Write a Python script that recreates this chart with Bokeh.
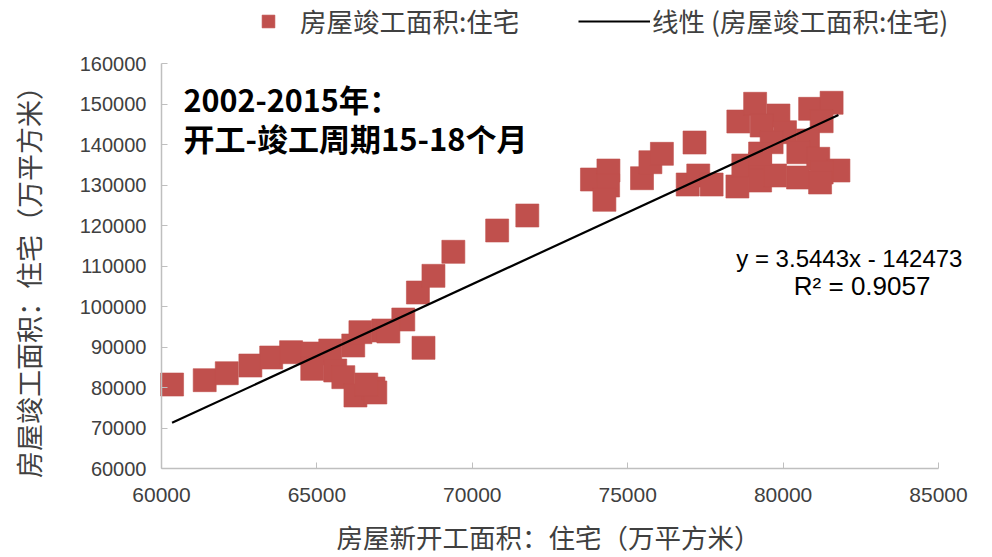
import math
from bokeh.plotting import figure
from bokeh.models import Legend, LegendItem, Label, Range1d, FixedTicker, NumeralTickFormatter, ColumnDataSource
from bokeh.embed import file_html
from bokeh.resources import INLINE

# 房屋新开工面积：住宅（万平方米）
new_start = [60340, 61390, 62100, 62860, 63530, 64170, 64850, 65430, 66170, 66400,
             67140, 67780, 64850, 65590, 65850, 66240, 66820, 66880, 66590, 67300,
             68430, 68250, 68750, 69390, 70800, 71770, 73850, 74380, 74370, 74250,
             75460, 75730, 76100, 77150, 76930, 77270, 77700, 78530, 78720, 78560,
             79100, 79850, 80870, 81560, 81240, 79310, 80060, 80800, 79630, 80490,
             81130, 81780, 79260, 79260, 79740, 80480, 81240, 79260, 81190]
# 房屋竣工面积：住宅（万平方米）
completed = [80860, 81930, 83650, 85550, 87530, 88840, 88520, 89260, 90490, 93780,
             94200, 96910, 84740, 84320, 82670, 78150, 79880, 78890, 80860, 93950,
             89920, 103580, 107700, 113630, 118890, 122590, 131480, 133700, 130000, 126470,
             131800, 135750, 137820, 140610, 130240, 132470, 130240, 129750, 134930, 145800,
             150170, 147280, 148930, 150420, 145870, 144810, 143160, 141110, 140690, 138220,
             136590, 133700, 135430, 131230, 132470, 131970, 133210, 137900, 130740]

slope = 3.5443
intercept = -142473
r_squared = 0.9057

x_ticks = [60000, 65000, 70000, 75000, 80000, 85000]
y_ticks = [60000, 70000, 80000, 90000, 100000, 110000, 120000, 130000, 140000, 150000, 160000]

series_name = "房屋竣工面积:住宅"
trend_name = "线性 (房屋竣工面积:住宅)"
x_title = "房屋新开工面积：住宅（万平方米）"
y_title = "房屋竣工面积：住宅（万平方米）"
note1 = "2002-2015年："
note2 = "开工-竣工周期15-18个月"

CJK = "Noto Sans CJK SC"
TXT = "#404040"
RED = "#C0504D"

# The plot frame covers the whole canvas; axes are pinned at the data origin
# (fixed_location) and bounded to the tick range, so titles/legend fit around them.
p = figure(width=992, height=557, output_backend="svg", toolbar_location=None,
           x_range=Range1d(54820, 86737), y_range=Range1d(38148, 175679),
           min_border_left=0, min_border_right=0, min_border_top=0, min_border_bottom=0)
p.outline_line_color = None
p.xgrid.visible = False
p.ygrid.visible = False
p.background_fill_color = "white"

src = ColumnDataSource(dict(x=new_start, y=completed))
pts = p.scatter("x", "y", source=src, marker="square", size=23,
                fill_color=RED, line_color=RED, line_alpha=0.6)

xmin, xmax = min(new_start), max(new_start)
tl = p.line([xmin, xmax], [slope * xmin + intercept, slope * xmax + intercept],
            line_color="black", line_width=2.2)

xa, ya = p.xaxis[0], p.yaxis[0]
xa.fixed_location = y_ticks[0]
ya.fixed_location = x_ticks[0]
for ax, ticks in ((xa, x_ticks), (ya, y_ticks)):
    ax.ticker = FixedTicker(ticks=ticks)
    ax.bounds = (ticks[0], ticks[-1])
    ax.formatter = NumeralTickFormatter(format="0")
    ax.axis_line_color = "#BFBFBF"
    ax.axis_line_width = 1.5
    ax.major_tick_line_color = "#BFBFBF"
    ax.major_tick_in = 6
    ax.major_tick_out = 0
    ax.minor_tick_line_color = None
    ax.major_label_text_font = "Liberation Sans"
    ax.major_label_text_color = TXT

xa.major_label_text_font_size = "21px"
ya.major_label_text_font_size = "20px"
xa.major_label_standoff = 19
ya.major_label_standoff = 15

p.add_layout(Label(x=72452, y=43330, text=x_title, text_font=CJK, text_font_size="26.5px",
                   text_color=TXT, text_align="center", text_baseline="middle"))
p.add_layout(Label(x=55721, y=107778, text=y_title, text_font=CJK, text_font_size="27px",
                   text_color=TXT, text_align="center", text_baseline="middle", angle=math.pi / 2))

leg1 = Legend(items=[LegendItem(label=series_name, renderers=[pts])],
              location=(252, 517), orientation="horizontal",
              glyph_width=32, glyph_height=32, label_standoff=16, padding=0, margin=0, spacing=0,
              border_line_color=None, background_fill_alpha=0,
              label_text_font=CJK, label_text_font_size="26.5px", label_text_color=TXT)
leg2 = Legend(items=[LegendItem(label=trend_name, renderers=[tl])],
              location=(578, 517), orientation="horizontal",
              glyph_width=72, glyph_height=32, label_standoff=2, padding=0, margin=0, spacing=0,
              border_line_color=None, background_fill_alpha=0,
              label_text_font=CJK, label_text_font_size="26.5px", label_text_color=TXT)
p.add_layout(leg1)
p.add_layout(leg2)

p.add_layout(Label(x=60708, y=151481, text=note1, text_font=CJK, text_font_size="30.5px",
                   text_font_style="bold", text_color="black", text_baseline="middle"))
p.add_layout(Label(x=60708, y=141852, text=note2, text_font=CJK, text_font_size="31px",
                   text_font_style="bold", text_color="black", text_baseline="middle"))

eq = f"y = {slope}x - {abs(intercept)}"
p.add_layout(Label(x=85770, y=111920, text=eq, text_font="Liberation Sans", text_font_size="24px",
                   text_color="black", text_align="right", text_baseline="middle"))
p.add_layout(Label(x=84740, y=105240, text=f"R² = {r_squared}", text_font="Liberation Sans",
                   text_font_size="26px", text_color="black", text_align="right", text_baseline="middle"))

open("out.html", "w").write(file_html(p, INLINE))
